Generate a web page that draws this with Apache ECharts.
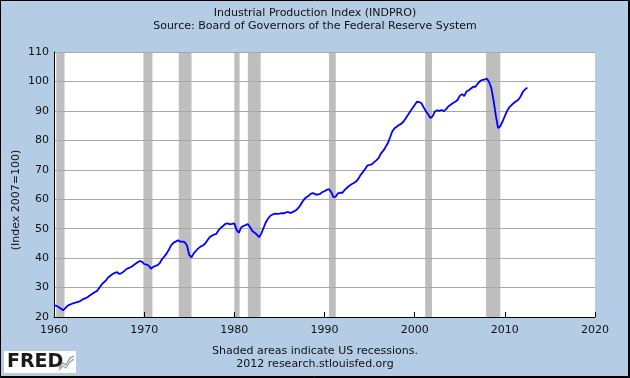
<!DOCTYPE html>
<html><head><meta charset="utf-8">
<script src="https://cdn.jsdelivr.net/npm/echarts@6/dist/echarts.min.js"></script>
<style>html,body{margin:0;padding:0;background:#b4cde4}#c{width:630px;height:378px}</style>
</head><body><div id="c"></div>
<script>
// Quarterly observations starting 1960-01 (index 2007=100)
const startYear = 1960;
const values = [
24.0,23.8,23.4,22.9, 22.3,23.0,23.8,24.2, 24.5,24.8,25.0,25.2, 25.6,26.1,26.4,26.8,
27.4,27.9,28.4,28.8, 29.8,30.9,31.7,32.4, 33.4,34.0,34.6,35.0, 35.2,34.6,34.9,35.5,
36.2,36.6,36.9,37.4, 38.0,38.5,39.0,38.8, 38.0,37.8,37.5,36.4, 37.0,37.4,37.6,38.4,
39.7,40.6,41.6,42.9, 44.4,45.2,45.6,46.1, 45.6,45.6,45.4,44.3, 41.0,40.3,41.6,42.5,
43.3,43.9,44.3,44.9, 46.0,47.1,47.6,48.0, 48.2,49.5,50.3,50.9, 51.6,51.8,51.5,51.6,
51.8,49.6,48.6,50.4, 50.9,51.2,51.6,50.5, 49.2,48.6,48.0,47.1, 48.4,50.3,52.2,53.5,
54.4,54.8,55.1,55.0, 55.1,55.3,55.2,55.6, 55.6,55.3,55.7,56.1, 56.7,57.6,58.9,60.0,
60.7,61.2,61.9,62.1, 61.6,61.6,61.8,62.4, 62.7,63.2,63.4,62.4, 60.7,60.9,62.0,62.2,
62.2,63.2,63.9,64.6, 65.1,65.5,66.0,66.9, 68.2,69.2,70.3,71.4, 71.7,71.8,72.6,73.2,
74.0,75.5,76.4,77.6, 78.9,80.8,82.9,84.0, 84.6,85.2,85.6,86.3, 87.4,88.6,89.8,90.9,
92.0,93.1,93.0,92.6, 91.2,89.9,88.8,87.6, 88.2,89.8,90.2,90.0, 90.3,89.9,90.6,91.6,
92.1,92.7,93.1,93.7, 95.1,95.7,95.0,96.6, 97.0,97.6,98.2,98.2, 99.3,100.1,100.5,100.6,
101.0,99.8,97.8,93.6, 88.4,84.2,84.8,86.4, 88.2,90.0,91.2,92.0, 92.7,93.3,93.8,94.9,
96.5,97.3,97.9
];
// NBER recessions: [start month, month after end]
const recessions = [
['1960-04','1961-03'],['1969-12','1970-12'],['1973-11','1975-04'],['1980-01','1980-08'],
['1981-07','1982-12'],['1990-07','1991-04'],['2001-03','2001-12'],['2007-12','2009-07']
];
const xTicks = [1960,1970,1980,1990,2000,2010,2020];
const yTicks = [20,30,40,50,60,70,80,90,100,110];

const toYear = s => { const [y,m] = s.split('-').map(Number); return y + (m-1)/12; };
const lineData = values.map((v,i) => [startYear + i*0.25, v]);
const areas = recessions.map(r => [{xAxis: toYear(r[0])},{xAxis: toYear(r[1])}]);

const F = 'DejaVu Sans';
const chart = echarts.init(document.getElementById('c'), null, {renderer:'canvas'});
chart.setOption({
  backgroundColor: '#b4cde4',
  animation: false,
  grid: {left:54, right:35, top:52, bottom:61, show:true, backgroundColor:'#ffffff', borderWidth:0, z:0},
  xAxis: {
    type:'value', min:xTicks[0], max:xTicks[xTicks.length-1], interval:10, z:5,
    axisLine:{show:true, onZero:false, lineStyle:{color:'#000', width:1}},
    axisTick:{show:true, inside:true, length:5, lineStyle:{color:'#000'}},
    axisLabel:{color:'#111', fontFamily:F, fontSize:11, margin:8, formatter: v => String(v)},
    splitLine:{show:false}
  },
  yAxis: {
    type:'value', min:yTicks[0], max:yTicks[yTicks.length-1], interval:10, z:5,
    axisLine:{show:true, lineStyle:{color:'#000', width:1}},
    axisTick:{show:false},
    axisLabel:{color:'#111', fontFamily:F, fontSize:11, margin:5},
    splitLine:{show:true, lineStyle:{color:'#a8a8a8', width:1}}
  },
  series: [
    {type:'line', name:'rec', data:[], z:1, silent:true,
     markArea:{silent:true, itemStyle:{color:'#bebebe', opacity:1}, data: areas}},
    {type:'line', name:'INDPRO', data: lineData, z:10, symbol:'none', smooth:false,
     lineStyle:{color:'#0000ff', width:1.8}}
  ],
  graphic: [
    {type:'text', left:'center', top:8, style:{text:'Industrial Production Index (INDPRO)', fill:'#111', font:'11px "DejaVu Sans"'}},
    {type:'text', left:'center', top:21, style:{text:'Source: Board of Governors of the Federal Reserve System', fill:'#111', font:'11px "DejaVu Sans"'}},
    {type:'text', x:16, y:200, rotation:Math.PI/2, style:{text:'(Index 2007=100)', fill:'#111', font:'11px "DejaVu Sans"', align:'center', verticalAlign:'middle'}, originX:0, originY:0},
    {type:'text', left:'center', top:346, style:{text:'Shaded areas indicate US recessions.', fill:'#111', font:'11px "DejaVu Sans"'}},
    {type:'text', left:'center', top:359, style:{text:'2012 research.stlouisfed.org', fill:'#111', font:'11px "DejaVu Sans"'}},
    {type:'rect', shape:{x:4, y:351, width:72, height:22}, style:{fill:'#fff'}},
    {type:'text', x:7, y:353, style:{text:'FRED', fill:'#1a1a1a', font:'bold 19px "DejaVu Sans"'}},
    {type:'polyline', shape:{points:[[59,370],[63,366],[66,368],[70,362],[74,359]]}, style:{stroke:'#8fb070', lineWidth:1.2, fill:null}},
    {type:'polyline', shape:{points:[[59,368],[63,363],[66,365],[70,358],[74,356]]}, style:{stroke:'#6d8fc0', lineWidth:1.2, fill:null}},
    {type:'rect', shape:{x:0.5, y:0.5, width:628, height:376}, style:{fill:null, stroke:'#000', lineWidth:1}},
    {type:'line', shape:{x1:629.5, y1:0, x2:629.5, y2:378}, style:{stroke:'#000', lineWidth:1}},
    {type:'line', shape:{x1:0, y1:377.5, x2:630, y2:377.5}, style:{stroke:'#000', lineWidth:1}}
  ]
});
</script></body></html>
